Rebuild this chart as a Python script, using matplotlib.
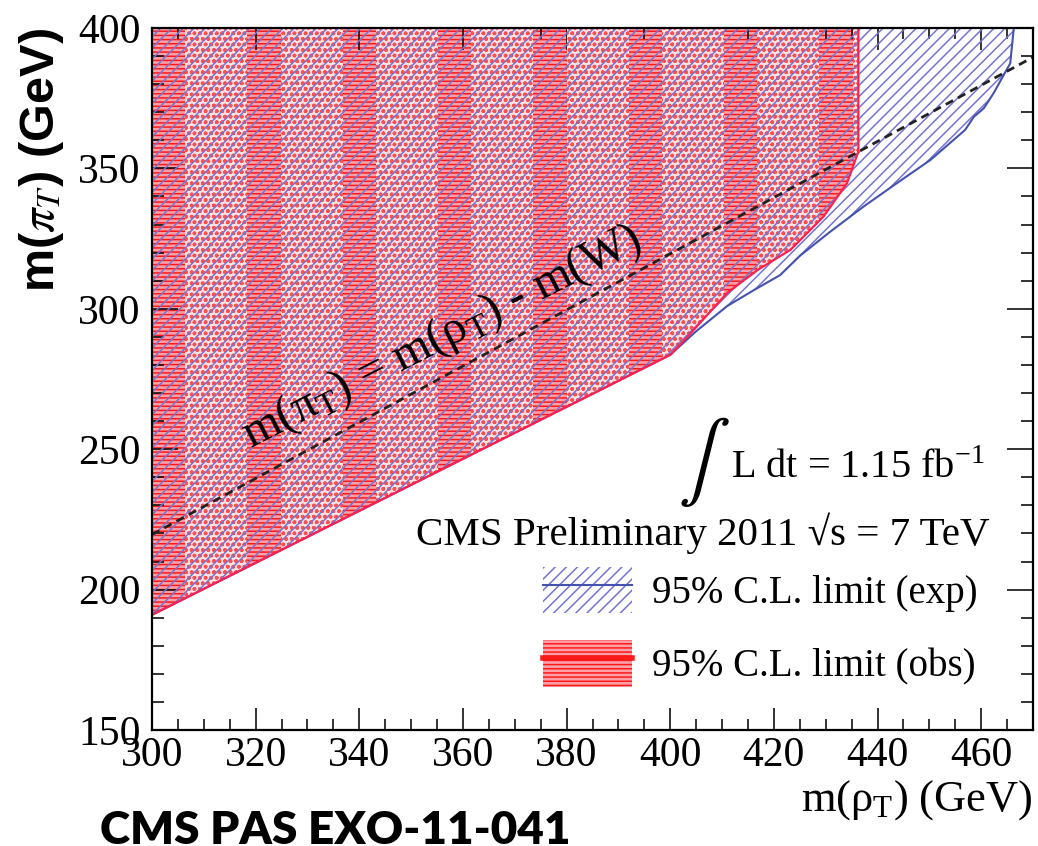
import numpy as np
import matplotlib
matplotlib.use('Agg')
import matplotlib.pyplot as plt
from matplotlib.patches import Patch, Rectangle
from matplotlib.lines import Line2D
from matplotlib.ticker import MultipleLocator

plt.rcParams['font.family'] = ['Liberation Serif', 'DejaVu Serif']
plt.rcParams['mathtext.fontset'] = 'stix'
plt.rcParams['hatch.linewidth'] = 1.1

# observed 95% CL limit: lower edge of the excluded region
obs_rho = [300, 400, 403.3, 411, 417, 423.2, 429.6, 434.1, 436.3, 436.3]
obs_pi = [191, 283.6, 290, 305.7, 314, 321, 332.9, 344.7, 356, 400]

# expected 95% CL limit
exp_rho = [300, 400, 405, 411, 416, 421.2, 425.1, 430.9, 437.3, 443.7,
           450.2, 456.9, 458.6, 460.5, 462.4, 464, 465.6, 466.3]
exp_pi = [191, 283.6, 292, 301, 306.5, 312, 319, 327.5, 336.4, 344.7,
          353, 363.7, 368.4, 371.4, 376.8, 382.1, 387.4, 400]

# m(pi_T) = m(rho_T) - m(W)
kin_rho = [300, 470]
kin_pi = [219.6, 389.6]

x_ticks = [300, 320, 340, 360, 380, 400, 420, 440, 460]
y_ticks = [150, 200, 250, 300, 350, 400]

W, H = 1038, 846


def px(x, y):
    return x / W, 1 - y / H


fig = plt.figure(figsize=(W / 100, H / 100), dpi=100)
ax = fig.add_axes([152 / W, 1 - 730 / H, 881 / W, 702 / H])
ax.set_xlim(300, 470)
ax.set_ylim(150, 400)

red = '#ff1a1a'
blue = '#7474d4'

# observed region: red line hatch, with the dotted moire bands
red_poly = ax.fill(obs_rho + [300], obs_pi + [400], facecolor='#ffa0a8',
                   edgecolor=red, hatch='----', linewidth=0, zorder=1)[0]
for x0 in np.arange(306.4, 470, 18.4):
    band = Rectangle((x0, 150), 12.0, 250, facecolor='#ffe2e6',
                     edgecolor='#ff5050', hatch='ooo', linewidth=0, zorder=2)
    ax.add_patch(band)
    band.set_clip_path(red_poly)

# expected region: blue diagonal hatch on top
ax.fill(exp_rho + [300], exp_pi + [400], facecolor='none', edgecolor=blue,
        hatch='///', linewidth=0, zorder=3)
ax.plot(exp_rho, exp_pi, color='#4552b0', lw=1.5, zorder=4)
ax.plot(obs_rho, obs_pi, color='#ff2050', lw=1.6, zorder=5)

ax.plot(kin_rho, kin_pi, color='#222222', ls=(0, (3, 2)), lw=2, zorder=6)
ax.text(356, 290, r'm($\mathregular{\pi_T}$) = m($\mathregular{\rho_T}$) - m(W)',
        rotation=27, ha='center', va='center', rotation_mode='anchor',
        fontsize=35, zorder=7)

ax.set_xticks(x_ticks)
ax.set_yticks(y_ticks)
ax.xaxis.set_minor_locator(MultipleLocator(5))
ax.yaxis.set_minor_locator(MultipleLocator(10))
ax.tick_params(which='both', direction='in', top=True, right=True,
               labelsize=30, width=1.2, color='#111111')
ax.tick_params(axis='x', which='major', length=16, pad=5)
ax.tick_params(axis='x', which='minor', length=8)
ax.tick_params(axis='y', which='major', length=19, pad=8)
ax.tick_params(axis='y', which='minor', length=8.5)
for s in ax.spines.values():
    s.set_linewidth(1.6)
    s.set_zorder(10)

fig.text(*px(42, 28), r'm($\pi_{T}$) (GeV)', rotation=90, ha='center',
         va='top', fontsize=35, fontweight='bold',
         family=['Liberation Sans', 'DejaVu Sans'])
fig.text(*px(1033, 800), r'm($\mathregular{\rho_T}$) (GeV)', ha='right',
         va='center', fontsize=32)
fig.text(*px(100, 810), 'CMS PAS EXO-11-041', ha='left', va='top',
         fontsize=33, fontweight='heavy', family=['Lato', 'DejaVu Sans'])

fig.text(*px(704, 462), r'$\int$', ha='center', va='center', fontsize=56)
fig.text(*px(985, 478), r'L dt = 1.15 fb$^{\mathregular{-1}}$', ha='right',
         va='baseline', fontsize=29)
fig.text(*px(990, 545), 'CMS Preliminary 2011 √s = 7 TeV',
         ha='right', va='baseline', fontsize=29.5)

handles = [
    (Patch(facecolor='none', edgecolor=blue, hatch='///', linewidth=0),
     Line2D([], [], color='#4552b0', lw=1.5)),
    (Patch(facecolor='#ffa0a8', edgecolor=red, hatch='----', linewidth=0),
     Line2D([], [], color=red, lw=4)),
]
labels = ['95% C.L. limit (exp)', '95% C.L. limit (obs)']
ax.legend(handles, labels, loc='upper left', bbox_to_anchor=px(543, 567),
          bbox_transform=fig.transFigure, frameon=False, fontsize=28,
          handlelength=2.3, handleheight=1.45, handletextpad=0.5,
          labelspacing=0.7, borderpad=0, borderaxespad=0)

fig.savefig('out.png', dpi=100)
